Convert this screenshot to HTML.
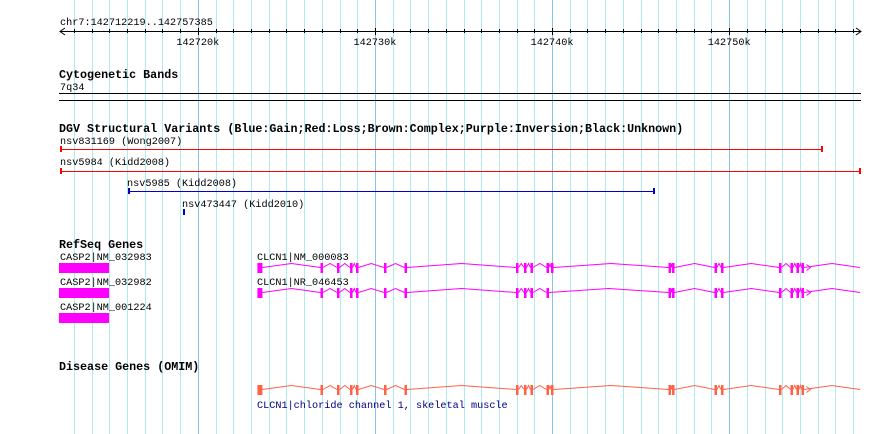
<!DOCTYPE html>
<html><head><meta charset="utf-8"><style>
html,body{margin:0;padding:0;background:#fff;}
svg{display:block;font-family:"Liberation Mono","DejaVu Sans Mono",monospace;}
.t{font-size:10.2px;fill:#000;}
.h{font-size:11.7px;font-weight:bold;fill:#000;}
</style></head><body>
<svg id="c" width="890" height="434" xmlns="http://www.w3.org/2000/svg">
<text class="t" x="60" y="25">chr7:142712219..142757385</text>
<text class="h" x="59" y="78">Cytogenetic Bands</text>
<text class="t" x="60" y="90">7q34</text>
<line x1="59" y1="93.5" x2="861" y2="93.5" stroke="#000"/>
<line x1="59" y1="100.5" x2="861" y2="100.5" stroke="#000"/>
<text class="h" x="59" y="132">DGV Structural Variants (Blue:Gain;Red:Loss;Brown:Complex;Purple:Inversion;Black:Unknown)</text>
<text class="h" x="59" y="248">RefSeq Genes</text>
<text class="t" x="60" y="260">CASP2|NM_032983</text>
<text class="t" x="60" y="285">CASP2|NM_032982</text>
<text class="t" x="60" y="310">CASP2|NM_001224</text>
<text class="t" x="257" y="260">CLCN1|NM_000083</text>
<text class="t" x="257" y="285">CLCN1|NR_046453</text>
<text class="h" x="59" y="370">Disease Genes (OMIM)</text>
<text class="t" x="257" y="408" style="fill:#000080">CLCN1|chloride channel 1, skeletal muscle</text>
</svg>
<script>
const viewStart = 142712219, viewEnd = 142757385;
const majorTicks = [142720000, 142730000, 142740000, 142750000];
const majorLabels = ["142720k", "142730k", "142740k", "142750k"];
const variantNames = ["nsv831169 (Wong2007)", "nsv5984 (Kidd2008)", "nsv5985 (Kidd2008)", "nsv473447 (Kidd2010)"];
const variantStarts = [142712219, 142712219, 142716058, 142719163];
const variantEnds = [142755239, 142757385, 142745756, 142719220];
const variantTypes = ["loss", "loss", "gain", "gain"];
const casp2Starts = [142712160, 142712160, 142712160];
const casp2Ends = [142714990, 142714990, 142714990];
const tx1Exons = [[142723364,142723646],[142726927,142727068],[142727858,142727999],[142728592,142728705],[142728931,142729072],[142730511,142730624],[142731669,142731725],[142737964,142738105],[142738415,142738528],[142738782,142738895],[142739686,142739827],[142739940,142740053],[142746574,142746687],[142746772,142746884],[142749171,142749312],[142749538,142749679],[142752812,142752953],[142753462,142753574],[142753800,142753913],[142754083,142754195]];
const tx2Exons = [[142723364,142723646],[142726927,142727068],[142727858,142727999],[142728592,142728705],[142728931,142729072],[142730511,142730624],[142731669,142731725],[142737964,142738105],[142738415,142738528],[142738782,142738895],[142739686,142739827],[142746574,142746687],[142746772,142746884],[142749171,142749312],[142749538,142749679],[142752812,142752953],[142753462,142753574],[142753800,142753913],[142754083,142754195]];
const omimExons = tx1Exons;

const svg = document.getElementById('c');
const NS = 'http://www.w3.org/2000/svg';
const X0 = 60, X1 = 860;
function xs(bp){ return X0 + (bp - viewStart) * (X1 - X0) / (viewEnd - viewStart); }
function mk(tag, attrs){ const e = document.createElementNS(NS, tag); for (const k in attrs) e.setAttribute(k, attrs[k]); return e; }
const first = svg.firstChild;
for (let kb = Math.ceil(viewStart/1000); kb*1000 <= viewEnd; kb++) {
  const x = Math.round(xs(kb*1000)) + 0.5;
  const major = kb % 10 === 0;
  const g = mk('line', {x1:x, y1:0, x2:x, y2:434, stroke: major ? '#88c4ea' : '#aeeaf2', 'stroke-width':1});
  
  
  svg.insertBefore(g, first);
  const t = mk('line', {x1:x, y1: major ? 28 : 29, x2:x, y2: major ? 35 : 33, stroke:'#000'});
  
  
  svg.appendChild(t);
}
const rl = mk('line', {x1:X0, y1:31.5, x2:X1+1, y2:31.5, stroke:'#000'});


svg.appendChild(rl);
const ar = mk('path', {d:`M${X0+5},28 L${X0},31.5 L${X0+5},35 M${X1-4},28 L${X1+1},31.5 L${X1-4},35`, stroke:'#000', fill:'none'});


svg.appendChild(ar);
majorTicks.forEach((p, i) => {
  const t = mk('text', {x: xs(p), y: 45, 'text-anchor':'middle', class:'t'});
  t.textContent = majorLabels[i];
  
  
  svg.appendChild(t);
});
const vRows = [{ty:144, ly:149.5, tx:60},{ty:165, ly:171.5, tx:60},{ty:186, ly:191.5, tx:null},{ty:207, ly:212.5, tx:null}];
variantNames.forEach((n, i) => {
  const col = variantTypes[i] === 'loss' ? '#ff0000' : '#0000cc';
  const a = Math.round(xs(variantStarts[i])), b = Math.round(xs(variantEnds[i]));
  const r = vRows[i];
  const t = mk('text', {x: r.tx === null ? a - 1 : r.tx, y: r.ty, class:'t'});
  t.textContent = n;
  
  
  svg.appendChild(t);
  const g = mk('g', {});
  
  
  if (b - a > 3) {
    g.appendChild(mk('line', {x1:a, y1:r.ly, x2:b+1, y2:r.ly, stroke:col}));
    g.appendChild(mk('rect', {x:a, y:r.ly-3.5, width:2, height:6, fill:col}));
    g.appendChild(mk('rect', {x:b-1, y:r.ly-3.5, width:2, height:6, fill:col}));
  } else {
    g.appendChild(mk('rect', {x:a, y:r.ly-3.5, width:2, height:6, fill:col}));
  }
  svg.appendChild(g);
});
[263, 288, 313].forEach((y, i) => {
  const a = Math.max(59, xs(casp2Starts[i])), b = xs(casp2Ends[i]);
  const r = mk('rect', {x:a, y:y, width:b-a, height:10, fill:'#ff00ff'});
  
  
  svg.appendChild(r);
});
function drawGene(exons, y, col, name){
  const g = mk('g', {});
  
  
  const base = y + 4.5;
  let pts = [];
  for (let i = 0; i < exons.length; i++) {
    const a = xs(exons[i][0]), b = Math.max(xs(exons[i][1]), a + 2.5);
    g.appendChild(mk('rect', {x:a, y:y, width:b-a, height:10, fill:col}));
    const nxt = i + 1 < exons.length ? xs(exons[i+1][0]) : X1;
    const m = (b + nxt) / 2;
    pts.push(`M${b},${base} L${m},${base-4} L${nxt},${base}`);
  }
  g.appendChild(mk('path', {d: pts.join(' '), stroke: col, fill:'none', 'stroke-width':1}));
  const last = xs(exons[exons.length-1][1]) + 3;
  g.appendChild(mk('path', {d:`M${last},${base-3} L${last+4},${base} L${last},${base+3}`, stroke:col, fill:'none'}));
  svg.appendChild(g);
}
drawGene(tx1Exons, 263, '#ff00ff', 'clcn1-nm000083-transcript');
drawGene(tx2Exons, 288, '#ff00ff', 'clcn1-nr046453-transcript');
drawGene(omimExons, 385, '#ff6347', 'omim-clcn1-gene');
</script>
</body></html>
